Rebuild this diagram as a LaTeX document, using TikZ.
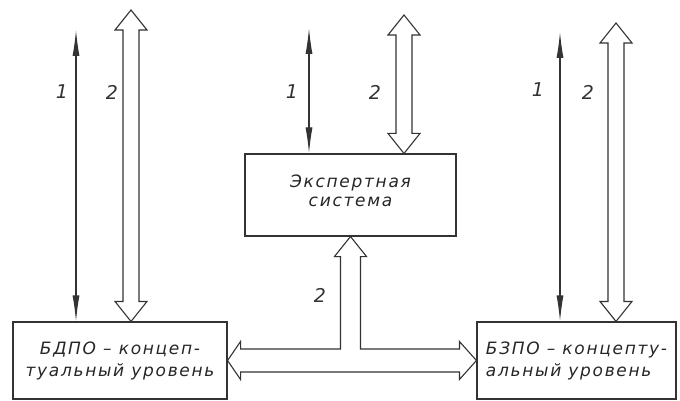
\documentclass[tikz,border=0pt]{standalone}
\usepackage{fontspec}
\setmainfont{DejaVu Sans}
\newfontfamily\handfont[LetterSpace=10]{DejaVu Sans}
\usetikzlibrary{arrows.meta,calc}

% hollow two-headed arrow between two points on one vertical
\newcommand\fatarrow[2]{%
 \draw[fat] let \p1=(#1), \p2=(#2) in
  (\p1) -- ++(16pt,-20pt) -- (\x1+8pt,\y1-20pt) -- (\x2+8pt,\y2+20pt) -- ++(8pt,0)
  -- (\p2) -- ++(-16pt,20pt) -- ++(8pt,0) -- (\x1-8pt,\y1-20pt) -- ++(-8pt,0) -- cycle;}

\begin{document}
\begin{tikzpicture}
 [x=1pt,y=-1pt,
  box/.style={draw, line width=1.1pt, black!80, text=black!85, inner sep=0pt,
   font=\handfont\itshape\fontsize{17}{22}\selectfont},
  thin arrow/.style={{Latex[length=26pt,width=7pt]}-{Latex[length=26pt,width=7pt]}, line width=1.1pt, black!80},
  fat/.style={draw, line width=1.1pt, black!80},
  num/.style={text=black!80, font=\handfont\itshape\fontsize{19}{19}\selectfont}]

\useasboundingbox (0,0) rectangle (680,401);

\node[box, minimum width=214pt, minimum height=77pt, align=center] (bdpo) at (120,360.5) {БДПО – концеп-\\туальный уровень};
\node[box, minimum width=199pt, minimum height=77pt, align=left] (bzpo) at (576.5,360.5) {БЗПО – концепту-\\альный уровень};
\node[box, minimum width=211pt, minimum height=82pt, align=center, font=\handfont\itshape\fontsize{17}{19}\selectfont] (es) at (350.5,195) {Экспертная\\система\rule[-9pt]{0pt}{0pt}};

\coordinate (l1) at (76,30);
\coordinate (l2) at (131,10);
\coordinate (m1) at (309,28);
\coordinate (m2) at (404,15);
\coordinate (r1) at (560,32);
\coordinate (r2) at (616,23);

\path
  (l1) edge [thin arrow] (l1 |- bdpo.north)
  (m1) edge [thin arrow] (m1 |- es.north)
  (r1) edge [thin arrow] (r1 |- bzpo.north);

\fatarrow{l2}{l2 |- bdpo.north}
\fatarrow{m2}{m2 |- es.north}
\fatarrow{r2}{r2 |- bzpo.north}

% T-shaped link under the expert system
\draw[fat] let \p1=(es.south), \p2=(bdpo.east), \p3=(bzpo.west) in
  (\p1) -- (\x1+16pt,\y1-20pt) -- (\x1+10pt,\y1-20pt) -- (\x1+10pt,\y2+11.5pt)
  -- (\x3-17pt,\y2+11.5pt) -- (\x3-17pt,\y2+19pt) -- (\x3,\y2) -- (\x3-17pt,\y2-19pt)
  -- (\x3-17pt,\y2-11.5pt) -- (\x2+13pt,\y2-11.5pt) -- (\x2+13pt,\y2-19pt) -- (\x2,\y2)
  -- (\x2+13pt,\y2+19pt) -- (\x2+13pt,\y2+11.5pt) -- (\x1-10pt,\y2+11.5pt)
  -- (\x1-10pt,\y1-20pt) -- (\x1-16pt,\y1-20pt) -- cycle;

\node[num] (n1l) at (62,92) {1};
\node[num] (n2l) at (112,92) {2};
\node[num] (n1m) at (292,92) {1};
\node[num] (n2m) at (375,92) {2};
\node[num] (n1r) at (538,90) {1};
\node[num] (n2r) at (588,92) {2};
\node[num] (n2t) at (320,295) {2};

\end{tikzpicture}
\end{document}
